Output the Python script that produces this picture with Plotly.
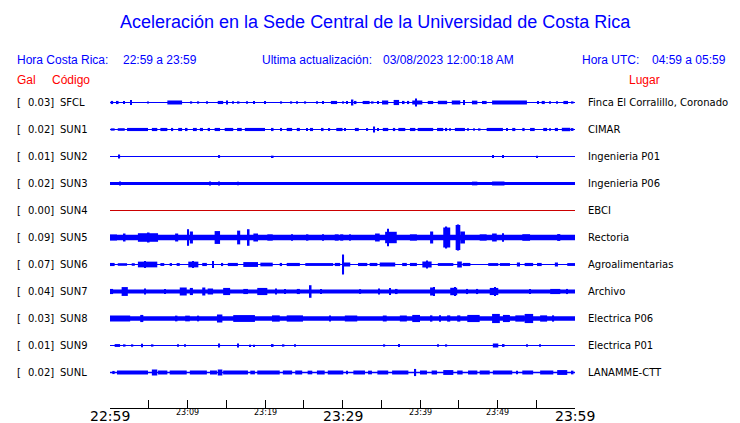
import plotly.graph_objects as go
from plotly.subplots import make_subplots

# ---------------- data ----------------
stations = ["SFCL", "SUN1", "SUN2", "SUN3", "SUN4", "SUN5", "SUN6", "SUN7", "SUN8", "SUN9", "SUNL"]
peak_gal = [0.03, 0.02, 0.01, 0.02, 0.00, 0.09, 0.07, 0.04, 0.03, 0.01, 0.02]
places = ["Finca El Corralillo, Coronado", "CIMAR", "Ingenieria P01", "Ingenieria P06", "EBCI",
          "Rectoria", "Agroalimentarias", "Archivo", "Electrica P06", "Electrica P01", "LANAMME-CTT"]
# half-width of the continuous noise band (Gal)
noise_gal = [0.0035, 0.0035, 0.0035, 0.011, 0.0035, 0.019, 0.004, 0.014, 0.016, 0.0035, 0.005]

# bursts: (start minute, end minute, half amplitude in Gal), minutes after 22:59
bursts_SFCL = [(0.1, 0.4, 0.011), (1.0, 1.0, 0.011), (1.8, 1.8, 0.011), (2.6, 2.8, 0.017), (4.9, 4.9, 0.007),
               (7.4, 9.3, 0.014), (10.5, 10.5, 0.008), (11.4, 11.4, 0.008), (12.5, 12.5, 0.008), (13.9, 14.6, 0.011),
               (15.1, 15.1, 0.014), (15.9, 15.9, 0.008), (16.6, 16.6, 0.008), (17.7, 17.7, 0.008), (18.6, 18.6, 0.011),
               (20.0, 20.0, 0.011), (22.1, 22.1, 0.008), (23.4, 23.4, 0.008), (24.1, 24.1, 0.008), (25.2, 25.2, 0.008),
               (26.7, 26.7, 0.008), (27.5, 27.5, 0.011), (28.5, 29.3, 0.011), (30.1, 30.1, 0.008), (30.6, 30.6, 0.011),
               (31.2, 31.4, 0.021), (31.7, 31.7, 0.011), (32.6, 33.5, 0.011), (33.9, 33.9, 0.008), (34.6, 34.6, 0.011),
               (35.1, 35.9, 0.014), (36.6, 37.3, 0.018), (37.9, 37.9, 0.011), (38.5, 38.5, 0.011), (39.0, 40.3, 0.014),
               (39.5, 39.5, 0.028), (41.0, 41.7, 0.011), (42.3, 43.5, 0.012), (44.1, 45.2, 0.014), (45.7, 45.7, 0.017),
               (46.7, 47.4, 0.013), (48.0, 48.6, 0.011), (49.3, 53.8, 0.014), (55.2, 55.2, 0.010), (55.7, 56.1, 0.011),
               (56.8, 56.8, 0.008), (57.7, 57.7, 0.008), (58.5, 59.1, 0.011), (59.7, 59.7, 0.008)]
bursts_SUN1 = [(0.1, 0.6, 0.008), (1.0, 1.9, 0.009), (2.2, 4.9, 0.011), (5.4, 6.1, 0.011), (6.5, 7.4, 0.011),
               (8.0, 8.1, 0.011), (8.8, 9.3, 0.011), (9.9, 9.9, 0.011), (10.7, 11.2, 0.011), (11.6, 12.0, 0.011),
               (12.6, 12.9, 0.011), (13.5, 14.2, 0.011), (14.8, 15.9, 0.011), (16.4, 17.0, 0.011), (17.4, 20.0, 0.011),
               (21.0, 21.0, 0.011), (22.1, 22.1, 0.011), (22.8, 23.5, 0.011), (24.1, 24.5, 0.011), (25.4, 25.4, 0.011),
               (25.8, 26.2, 0.011), (27.4, 27.5, 0.011), (28.3, 28.3, 0.010), (29.2, 30.0, 0.011), (30.3, 30.3, 0.010),
               (31.6, 32.1, 0.011), (33.2, 33.2, 0.010), (34.1, 34.1, 0.021), (34.6, 34.6, 0.011), (35.2, 35.9, 0.011),
               (36.5, 36.8, 0.011), (37.2, 38.1, 0.011), (38.7, 39.4, 0.011), (39.7, 41.7, 0.011), (42.2, 43.0, 0.011),
               (43.4, 43.4, 0.011), (43.9, 43.9, 0.008), (44.5, 45.8, 0.011), (46.2, 46.2, 0.008), (47.0, 47.0, 0.008),
               (47.7, 47.7, 0.008), (48.6, 50.7, 0.011), (51.2, 51.2, 0.010), (51.9, 52.3, 0.011), (53.2, 53.5, 0.011),
               (54.2, 54.8, 0.011), (55.9, 56.4, 0.011), (56.8, 56.8, 0.008), (57.4, 57.8, 0.011), (58.3, 59.4, 0.012),
               (59.7, 59.7, 0.010)]
bursts_SUN2 = [(1.2, 1.2, 0.014), (14.1, 14.1, 0.010), (21.0, 21.0, 0.006), (49.4, 49.4, 0.011),
               (50.7, 50.7, 0.011), (55.1, 55.1, 0.006)]
bursts_SUN3 = [(1.3, 1.3, 0.014), (12.9, 12.9, 0.014), (14.1, 14.1, 0.014), (16.5, 16.5, 0.013),
               (46.7, 47.4, 0.013), (49.3, 50.9, 0.014)]
bursts_SUN4 = []
bursts_SUN5 = [(0.0, 0.9, 0.021), (1.9, 1.9, 0.028), (3.6, 6.2, 0.030), (5.0, 5.0, 0.035), (8.4, 8.8, 0.028),
               (10.1, 10.1, 0.058), (10.3, 10.7, 0.042), (13.5, 14.2, 0.045), (16.4, 16.8, 0.048), (17.9, 17.9, 0.058),
               (18.5, 19.1, 0.028), (20.3, 21.0, 0.022), (23.5, 23.5, 0.022), (25.5, 25.5, 0.022), (27.5, 27.5, 0.022),
               (29.0, 29.5, 0.022), (29.7, 30.1, 0.022), (31.0, 31.0, 0.022), (34.2, 34.8, 0.028), (35.5, 37.0, 0.040),
               (35.9, 35.9, 0.061), (38.7, 39.6, 0.022), (41.3, 41.7, 0.042), (43.0, 43.9, 0.070), (43.4, 43.4, 0.077),
               (44.6, 45.2, 0.088), (44.9, 44.9, 0.091), (45.2, 45.8, 0.042), (47.7, 48.6, 0.022), (49.3, 49.9, 0.028),
               (50.7, 50.7, 0.030), (53.2, 54.2, 0.023), (57.7, 58.1, 0.024)]
bursts_SUN6 = [(0.0, 0.6, 0.011), (1.0, 2.2, 0.009), (2.8, 3.2, 0.009), (3.6, 6.1, 0.020), (4.5, 4.5, 0.025),
               (6.5, 7.0, 0.010), (7.7, 8.0, 0.010), (8.6, 9.0, 0.010), (10.1, 11.4, 0.020), (10.7, 10.7, 0.025),
               (11.9, 12.5, 0.011), (13.3, 13.3, 0.025), (14.5, 14.5, 0.011), (15.2, 16.5, 0.011), (17.2, 19.1, 0.017),
               (19.4, 21.0, 0.013), (21.9, 22.2, 0.011), (22.8, 24.5, 0.011), (25.2, 28.8, 0.010), (29.0, 29.7, 0.011),
               (30.1, 30.1, 0.070), (30.0, 31.0, 0.014), (32.0, 33.2, 0.011), (33.5, 34.5, 0.011), (34.8, 36.8, 0.014),
               (37.7, 38.3, 0.011), (38.7, 39.6, 0.011), (40.3, 41.5, 0.021), (40.9, 40.9, 0.028), (42.3, 44.3, 0.010),
               (44.8, 45.4, 0.021), (45.5, 46.5, 0.011), (48.8, 50.1, 0.010), (50.3, 51.6, 0.010), (52.5, 52.9, 0.014),
               (53.5, 54.6, 0.011), (55.1, 55.7, 0.011), (57.4, 57.8, 0.014), (59.0, 60.0, 0.010)]
bursts_SUN7 = [(0.0, 0.4, 0.018), (1.5, 2.3, 0.031), (4.5, 4.5, 0.021), (7.1, 7.1, 0.018), (9.0, 9.9, 0.028),
               (10.3, 10.7, 0.025), (11.9, 12.3, 0.028), (12.6, 13.3, 0.021), (14.6, 15.5, 0.025), (17.2, 17.8, 0.018),
               (19.0, 20.3, 0.025), (21.4, 21.4, 0.021), (22.6, 22.6, 0.018), (24.1, 24.5, 0.018), (25.9, 25.9, 0.044),
               (27.2, 27.2, 0.018), (32.3, 32.3, 0.016), (34.6, 34.8, 0.021), (36.1, 36.1, 0.025), (37.0, 37.0, 0.018),
               (41.3, 41.9, 0.028), (41.8, 41.8, 0.032), (43.9, 44.8, 0.026), (44.5, 44.5, 0.032), (46.1, 46.1, 0.018),
               (47.4, 47.4, 0.018), (49.0, 50.1, 0.025), (49.7, 49.7, 0.032), (54.2, 54.2, 0.018), (56.8, 58.1, 0.018),
               (59.0, 59.0, 0.018)]
bursts_SUN8 = [(0.0, 2.6, 0.021), (3.9, 4.3, 0.025), (8.6, 8.6, 0.020), (9.7, 10.3, 0.020), (11.4, 11.4, 0.020),
               (13.8, 14.5, 0.028), (15.9, 18.7, 0.024), (20.9, 21.9, 0.022), (22.8, 24.9, 0.022), (28.4, 28.4, 0.021),
               (30.3, 31.9, 0.021), (35.2, 35.7, 0.021), (37.4, 38.3, 0.021), (39.0, 40.0, 0.025), (41.5, 41.5, 0.022),
               (42.6, 42.6, 0.022), (43.5, 43.9, 0.022), (44.8, 45.2, 0.022), (46.1, 47.7, 0.025), (49.3, 50.3, 0.032),
               (50.7, 51.6, 0.025), (52.3, 53.5, 0.022), (53.5, 54.6, 0.032), (55.5, 56.4, 0.022), (57.2, 57.2, 0.022)]
bursts_SUN9 = [(0.6, 1.3, 0.010), (1.9, 1.9, 0.008), (2.9, 2.9, 0.008), (4.1, 4.1, 0.013), (5.5, 5.5, 0.008),
               (8.8, 8.8, 0.008), (9.7, 9.7, 0.008), (14.1, 14.1, 0.014), (16.5, 16.5, 0.014), (18.1, 18.1, 0.006),
               (18.6, 18.6, 0.006), (21.0, 21.0, 0.010), (22.4, 22.4, 0.008), (23.9, 23.9, 0.008), (35.4, 35.4, 0.008),
               (37.3, 37.3, 0.010), (42.3, 42.3, 0.008), (43.4, 43.4, 0.008), (49.4, 50.1, 0.014), (50.8, 50.8, 0.010),
               (53.8, 53.8, 0.008), (55.5, 55.5, 0.008)]
bursts_SUNL = [(0.3, 0.6, 0.011), (0.9, 4.9, 0.014), (5.4, 6.1, 0.021), (6.2, 7.4, 0.014), (7.7, 9.9, 0.014),
               (10.3, 12.5, 0.014), (12.9, 13.8, 0.014), (13.9, 14.5, 0.021), (14.6, 17.8, 0.014), (18.1, 18.7, 0.013),
               (19.0, 21.9, 0.014), (22.3, 23.5, 0.014), (23.9, 24.8, 0.014), (25.5, 26.1, 0.013), (26.7, 27.7, 0.014),
               (28.1, 30.1, 0.014), (30.5, 30.7, 0.013), (31.4, 32.9, 0.014), (33.3, 33.8, 0.013), (34.5, 35.9, 0.014),
               (36.4, 38.5, 0.014), (39.4, 39.4, 0.025), (40.0, 40.9, 0.014), (41.5, 42.2, 0.014), (43.0, 44.3, 0.017),
               (44.8, 45.5, 0.014), (46.2, 47.4, 0.014), (47.7, 49.0, 0.014), (49.4, 51.9, 0.014), (52.5, 52.5, 0.013),
               (53.2, 54.6, 0.014), (55.5, 57.2, 0.014), (57.7, 59.0, 0.017), (59.7, 59.7, 0.013)]
bursts = [bursts_SFCL, bursts_SUN1, bursts_SUN2, bursts_SUN3, bursts_SUN4, bursts_SUN5,
          bursts_SUN6, bursts_SUN7, bursts_SUN8, bursts_SUN9, bursts_SUNL]

tick_minutes = [0, 5, 10, 15, 20, 25, 30, 35, 40, 45, 50, 55, 60]
tick_labels = ["22:59", "", "23:09", "", "23:19", "", "23:29", "", "23:39", "", "23:49", "", "23:59"]
major_labels = ["22:59", "23:29", "23:59"]

title = "Aceleración en la Sede Central de la Universidad de Costa Rica"
hora_cr = ("Hora Costa Rica:", "22:59 a 23:59")
actualizacion = ("Ultima actualización:", "03/08/2023 12:00:18 AM")
hora_utc = ("Hora UTC:", "04:59 a 05:59")

# ---------------- figure ----------------
W, H = 740, 423
L, R, T, B = 110, 165, 89, 15
ROW_PX = 27
n = len(stations)
plot_h = H - T - B
last_h = plot_h - n * ROW_PX
half_range = 0.0945  # Gal, half of one row

fig = make_subplots(rows=n + 1, cols=1, shared_xaxes=True, vertical_spacing=0,
                    row_heights=[ROW_PX / plot_h] * n + [last_h / plot_h])

BLUE = "#0000ff"
for i, st in enumerate(stations):
    r = i + 1
    color = "#cc0000" if peak_gal[i] == 0 else BLUE
    b = noise_gal[i]
    if b > 0.006:
        fig.add_trace(go.Bar(x=[30], y=[2 * b], base=[-b], width=[60], marker_color=color,
                             marker_line_width=0, showlegend=False, hoverinfo="skip"), row=r, col=1)
    else:
        fig.add_trace(go.Scatter(x=[0, 60], y=[0, 0], mode="lines",
                                 line=dict(color=color, width=max(1, 2 * b / 0.007)),
                                 showlegend=False, hoverinfo="skip"), row=r, col=1)
    if bursts[i]:
        xs = [(a + c) / 2 for a, c, _ in bursts[i]]
        ws = [max(c - a, 0.2) for a, c, _ in bursts[i]]
        amps = [v for _, _, v in bursts[i]]
        fig.add_trace(go.Bar(x=xs, width=ws, y=[2 * v for v in amps], base=[-v for v in amps],
                             marker_color=color, marker_line_width=0, showlegend=False,
                             hoverinfo="skip"), row=r, col=1)
    fig.update_yaxes(range=[-half_range, half_range], visible=False, row=r, col=1)
    fig.update_xaxes(showline=False, showgrid=False, zeroline=False, ticks="",
                     showticklabels=False, row=r, col=1)

# time axis row: an invisible trace so the subplot is active
fig.add_trace(go.Scatter(x=tick_minutes, y=[0.5] * len(tick_minutes), mode="markers",
                         marker=dict(opacity=0), showlegend=False, hoverinfo="skip"),
              row=n + 1, col=1)

fig.update_xaxes(range=[0, 60], fixedrange=True)
fig.update_yaxes(showline=False, showgrid=False, zeroline=False, showticklabels=False, ticks="",
                 range=[0, 1], row=n + 1, col=1)
fig.update_xaxes(row=n + 1, col=1, showline=True, linecolor="black", linewidth=1,
                 ticks="inside", ticklen=8, tickcolor="black", tickwidth=1,
                 tickvals=tick_minutes, ticktext=[""] * len(tick_minutes), showticklabels=True,
                 showgrid=False, zeroline=False)

ann = []

def px_to_xpaper(px):
    return (px - L) / (W - L - R)

def px_to_ypaper(py):
    return (H - B - py) / plot_h

# row labels
for i, st in enumerate(stations):
    yref = "y" if i == 0 else "y%d" % (i + 1)
    f = dict(family="DejaVu Sans", size=10, color="black")
    ann.append(dict(x=px_to_xpaper(15), xref="paper", y=0, yref=yref, text="[", showarrow=False,
                    xanchor="left", yanchor="middle", font=f))
    ann.append(dict(x=px_to_xpaper(56), xref="paper", y=0, yref=yref, text="%.2f]" % peak_gal[i],
                    showarrow=False, xanchor="right", yanchor="middle", font=f))
    ann.append(dict(x=px_to_xpaper(58), xref="paper", y=0, yref=yref, text=st, showarrow=False,
                    xanchor="left", yanchor="middle", font=f))
    ann.append(dict(x=px_to_xpaper(586), xref="paper", y=0, yref=yref, text=places[i], showarrow=False,
                    xanchor="left", yanchor="middle", font=f))

# tick labels
for tv, tl in zip(tick_minutes, tick_labels):
    if not tl:
        continue
    big = tl in major_labels
    ann.append(dict(x=px_to_xpaper(L + tv * (W - L - R) / 60.0), xref="paper", y=px_to_ypaper(408),
                    yref="paper", text=tl, showarrow=False,
                    xanchor="center", yanchor="top", yshift=2 if big else 2,
                    font=dict(family="DejaVu Sans", size=14 if big else 8, color="black")))

# header
hf = dict(family="Liberation Sans, Arial", size=12, color=BLUE)
rf = dict(family="Liberation Sans, Arial", size=12, color="#ff0000")
ann.append(dict(x=px_to_xpaper(375), xref="paper", y=px_to_ypaper(22), yref="paper", text=title,
                showarrow=False, xanchor="center", yanchor="middle",
                font=dict(family="Liberation Sans, Arial", size=18, color=BLUE)))
for (lab, val), xl, xv in [(hora_cr, 15, 121), (actualizacion, 260, 381), (hora_utc, 580, 650)]:
    ann.append(dict(x=px_to_xpaper(xl), xref="paper", y=px_to_ypaper(60), yref="paper", text=lab,
                    showarrow=False, xanchor="left", yanchor="middle", font=hf))
    ann.append(dict(x=px_to_xpaper(xv), xref="paper", y=px_to_ypaper(60), yref="paper", text=val,
                    showarrow=False, xanchor="left", yanchor="middle", font=hf))
for txt, xl in [("Gal", 15), ("Código", 50), ("Lugar", 627)]:
    ann.append(dict(x=px_to_xpaper(xl), xref="paper", y=px_to_ypaper(80), yref="paper", text=txt,
                    showarrow=False, xanchor="left", yanchor="middle", font=rf))

fig.update_layout(width=W, height=H, margin=dict(l=L, r=R, t=T, b=B, autoexpand=False),
                  paper_bgcolor="white", plot_bgcolor="white", barmode="overlay",
                  annotations=ann, showlegend=False, hovermode=False)

fig.write_html("out.html", config={"displayModeBar": False},
               post_script="document.body.style.margin='0';document.body.style.overflow='hidden';")
